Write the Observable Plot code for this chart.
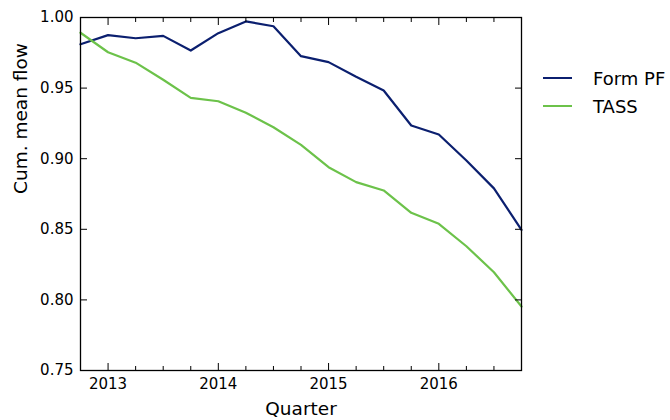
<!DOCTYPE html>
<html><head><meta charset="utf-8">
<script src="https://cdn.jsdelivr.net/npm/d3@7"></script>
<script src="https://cdn.jsdelivr.net/npm/@observablehq/plot@0.6"></script>
<style>
body{margin:0;background:#fff;}
#chart{position:relative;width:670px;height:420px;font-family:"DejaVu Sans",sans-serif;}
#legend{position:absolute;left:543px;top:64px;font-size:18px;color:#000;}
.item{display:flex;align-items:center;height:28px;white-space:nowrap;}
.sw{display:inline-block;width:29px;height:2px;margin-right:21px;}
</style></head><body><div id="chart"><div id="legend"></div></div>
<script>
const quarters = [2012.75, 2013.0, 2013.25, 2013.5, 2013.75, 2014.0, 2014.25, 2014.5, 2014.75,
                  2015.0, 2015.25, 2015.5, 2015.75, 2016.0, 2016.25, 2016.5, 2016.75];
const formPF = [0.981, 0.9875, 0.9853, 0.987, 0.9766, 0.9889, 0.9972, 0.9938, 0.9726,
                0.9684, 0.958, 0.9483, 0.9235, 0.9171, 0.8987, 0.879, 0.8496];
const tass = [0.9892, 0.9754, 0.968, 0.9559, 0.9431, 0.9407, 0.9325, 0.9223, 0.9098,
              0.894, 0.8834, 0.8775, 0.8617, 0.8539, 0.838, 0.8196, 0.7953];
const seriesNames = ["Form PF", "TASS"];
const seriesColors = ["#0b1f6f", "#6cc24a"];
const yearTicks = [2013, 2014, 2015, 2016];
const minorTicks = [2013.25, 2013.5, 2013.75, 2014.25, 2014.5, 2014.75, 2015.25, 2015.5, 2015.75, 2016.25, 2016.5];
const yTicks = [0.75, 0.80, 0.85, 0.90, 0.95, 1.00];
const xLabel = "Quarter";
const yLabel = "Cum. mean flow";

const seriesValues = [formPF, tass];
const data = seriesNames.flatMap((s, i) => quarters.map((q, j) => ({q, v: seriesValues[i][j], s})));
const blank = () => "";

const chart = Plot.plot({
  width: 670, height: 420,
  marginLeft: 80, marginRight: 149, marginTop: 17, marginBottom: 50,
  style: {fontFamily: "DejaVu Sans, sans-serif", fontSize: "15px", color: "#000", background: "#fff", overflow: "visible"},
  x: {domain: [2012.75, 2016.75]},
  y: {domain: [0.75, 1.0]},
  color: {domain: seriesNames, range: seriesColors},
  marks: [
    Plot.lineY(data, {x: "q", y: "v", stroke: "s", strokeWidth: 2.2}),
    Plot.axisX(yearTicks, {anchor: "bottom", tickSize: -7, tickPadding: 15, tickFormat: d => String(d), label: null, stroke: "#000"}),
    Plot.axisX(minorTicks, {anchor: "bottom", tickSize: -4, tickFormat: blank, label: null, stroke: "#000"}),
    Plot.axisX(yearTicks, {anchor: "top", tickSize: -7, tickFormat: blank, label: null, stroke: "#000"}),
    Plot.axisX(minorTicks, {anchor: "top", tickSize: -4, tickFormat: blank, label: null, stroke: "#000"}),
    Plot.axisY(yTicks, {anchor: "left", tickSize: -7, tickPadding: 14, tickFormat: d3.format(".2f"), label: null, stroke: "#000"}),
    Plot.axisY(yTicks, {anchor: "right", tickSize: -7, tickFormat: blank, label: null, stroke: "#000"}),
    Plot.frame({stroke: "#000", strokeWidth: 1.3}),
    Plot.text([xLabel], {frameAnchor: "bottom", dy: 44, fontSize: 18.5, fill: "#000"}),
    Plot.text([yLabel], {frameAnchor: "left", dx: -59, rotate: -90, fontSize: 18.5, fill: "#000"})
  ]
});
document.getElementById("chart").prepend(chart);

const legend = document.getElementById("legend");
seriesNames.forEach((s, i) => {
  const item = document.createElement("div");
  item.className = "item";
  const sw = document.createElement("span");
  sw.className = "sw";
  sw.style.background = seriesColors[i];
  const label = document.createElement("span");
  label.textContent = s;
  item.append(sw, label);
  legend.append(item);
});
</script>
</body></html>
